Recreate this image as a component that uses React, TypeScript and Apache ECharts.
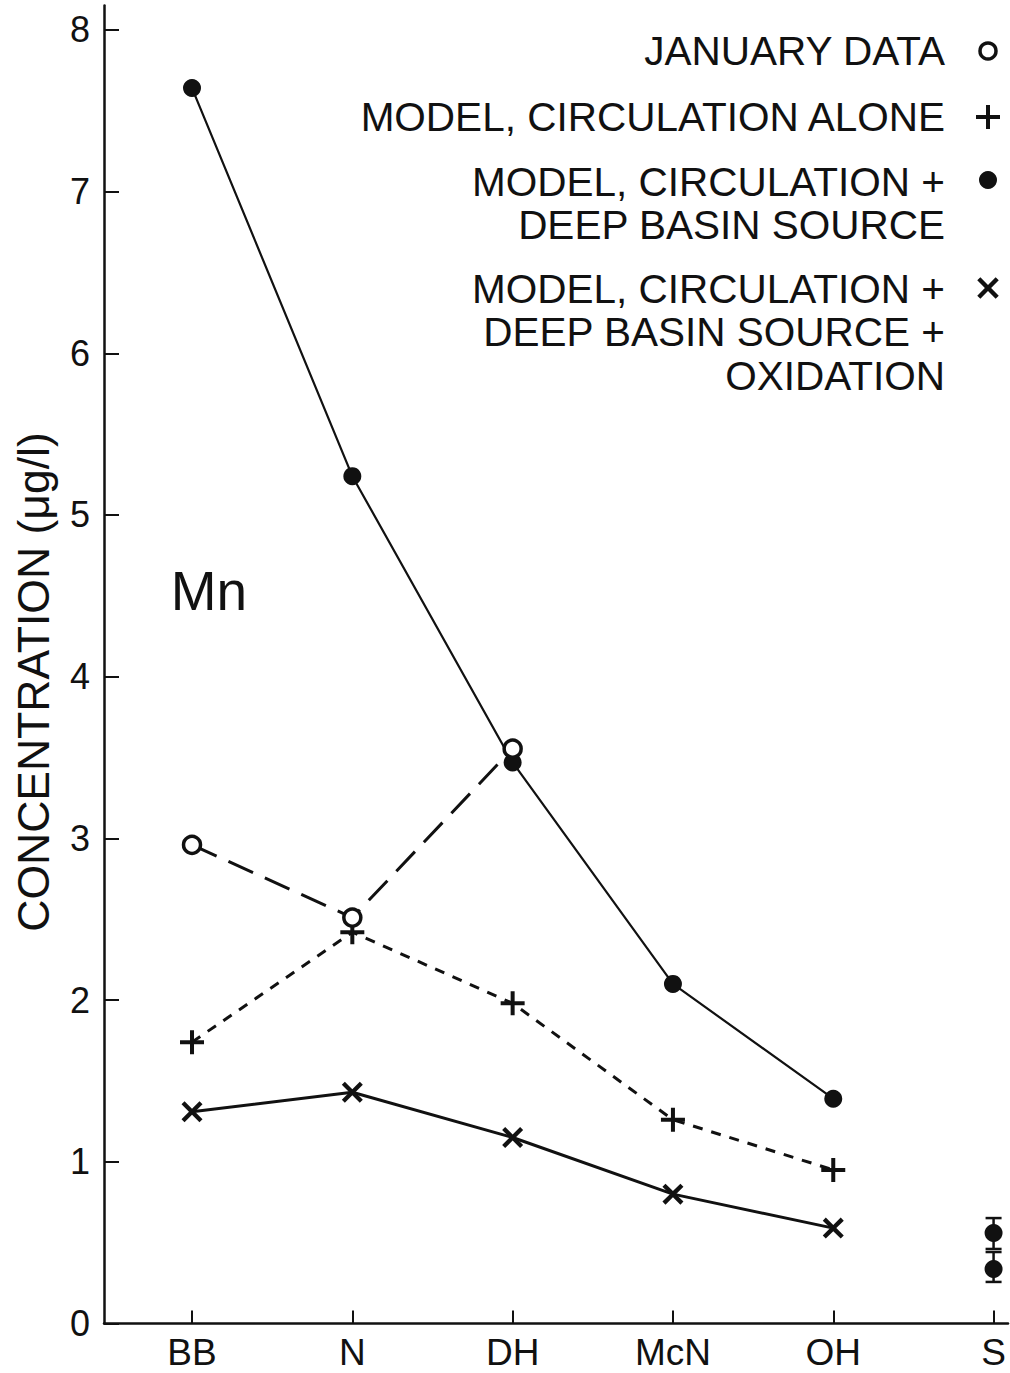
import React, { useEffect, useRef } from "react";
import * as echarts from "echarts";

// Stations along the x axis
const stations = ["BB", "N", "DH", "McN", "OH", "S"];
const yTicks = [0, 1, 2, 3, 4, 5, 6, 7, 8];

// Mn concentration (µg/l) per station
const januaryData = [2.96, 2.51, 3.555];
const circulationAlone = [1.74, 2.42, 1.98, 1.26, 0.95];
const circulationDeepBasin = [7.64, 5.24, 3.47, 2.1, 1.39];
const circulationDeepBasinOxidation = [1.31, 1.43, 1.15, 0.8, 0.59];

// Observed values at S with their ranges
const sValues = [0.56, 0.337];
const sLow = [0.461, 0.257];
const sHigh = [0.652, 0.442];

const FONT = "'Liberation Sans', Arial, Helvetica, sans-serif";
const INK = "#111";

const PLUS_PATH =
  "path://M-2,-12 H2 V-2 H12 V2 H2 V12 H-2 V2 H-12 V-2 H-2 Z";
const CROSS_PTS: number[][] = [
  [7.64, -10.75], [10.75, -7.64], [3.11, 0], [10.75, 7.64], [7.64, 10.75], [0, 3.11],
  [-7.64, 10.75], [-10.75, 7.64], [-3.11, 0], [-10.75, -7.64], [-7.64, -10.75], [0, -3.11],
];
const CROSS_PATH =
  "path://M" + CROSS_PTS.map((p) => p.join(",")).join(" L") + " Z";

const toPoints = (vals: number[]) => vals.map((v, i) => [i, v]);

export default function App() {
  const ref = useRef<HTMLDivElement>(null);

  useEffect(() => {
    document.body.style.margin = "0";
    if (!ref.current) return;
    const chart = echarts.init(ref.current, undefined, { renderer: "svg" });

    const legendRows = [
      { text: "JANUARY DATA", y: 51 },
      { text: "MODEL, CIRCULATION ALONE", y: 117 },
      { text: "MODEL, CIRCULATION +", y: 182 },
      { text: "DEEP BASIN SOURCE", y: 225 },
      { text: "MODEL, CIRCULATION +", y: 289 },
      { text: "DEEP BASIN SOURCE +", y: 332 },
      { text: "OXIDATION", y: 376 },
    ];

    const legendX = 988;
    const plusPts = [
      [-2, -12], [2, -12], [2, -2], [12, -2], [12, 2], [2, 2],
      [2, 12], [-2, 12], [-2, 2], [-12, 2], [-12, -2], [-2, -2],
    ];

    const option: any = {
      animation: false,
      backgroundColor: "#fff",
      grid: { left: 104, right: 2, top: 5.6, bottom: 49.5 },
      xAxis: {
        type: "value",
        min: -0.549,
        max: 5.09,
        axisLine: { show: true, onZero: false, lineStyle: { color: INK, width: 2.5 } },
        axisTick: {
          show: true,
          inside: true,
          length: 13,
          customValues: [0, 1, 2, 3, 4, 5],
          lineStyle: { color: INK, width: 2 },
        },
        axisLabel: {
          customValues: [0, 1, 2, 3, 4, 5],
          formatter: (v: number) => stations[Math.round(v)] ?? "",
          color: INK,
          fontFamily: FONT,
          fontSize: 37,
          margin: 10,
        },
        splitLine: { show: false },
      },
      yAxis: {
        type: "value",
        min: 0,
        max: 8.15,
        axisLine: { show: true, onZero: false, lineStyle: { color: INK, width: 2.5 } },
        axisTick: {
          show: true,
          inside: true,
          length: 15,
          customValues: yTicks,
          lineStyle: { color: INK, width: 2 },
        },
        axisLabel: {
          customValues: yTicks,
          color: INK,
          fontFamily: FONT,
          fontSize: 36,
          margin: 14,
        },
        splitLine: { show: false },
      },
      graphic: [
        {
          type: "text",
          x: 33,
          y: 682,
          rotation: Math.PI / 2,
          style: {
            text: "CONCENTRATION (μg/l)",
            fontFamily: FONT,
            fontSize: 44.5,
            fill: INK,
            align: "center",
            verticalAlign: "middle",
          },
        },
        {
          type: "text",
          x: 209,
          y: 591,
          style: {
            text: "Mn",
            fontFamily: FONT,
            fontSize: 55,
            fill: INK,
            align: "center",
            verticalAlign: "middle",
          },
        },
        ...legendRows.map((r) => ({
          type: "text",
          x: 945,
          y: r.y,
          style: {
            text: r.text,
            fontFamily: FONT,
            fontSize: 40.5,
            fill: INK,
            align: "right",
            verticalAlign: "middle",
          },
        })),
        {
          type: "circle",
          shape: { cx: legendX, cy: 51, r: 8 },
          style: { fill: "#fff", stroke: INK, lineWidth: 3.5 },
        },
        {
          type: "polygon",
          x: legendX,
          y: 117,
          shape: { points: plusPts },
          style: { fill: INK },
        },
        {
          type: "circle",
          shape: { cx: legendX, cy: 180, r: 9 },
          style: { fill: INK },
        },
        {
          type: "polygon",
          x: legendX,
          y: 288,
          shape: { points: CROSS_PTS },
          style: { fill: INK },
        },
      ],
      series: [
        {
          name: "Model, circulation + deep basin source",
          type: "line",
          data: toPoints(circulationDeepBasin),
          symbol: "circle",
          symbolSize: 18,
          lineStyle: { color: INK, width: 2.2 },
          itemStyle: { color: INK },
          z: 2,
        },
        {
          name: "Model, circulation + deep basin source + oxidation",
          type: "line",
          data: toPoints(circulationDeepBasinOxidation),
          symbol: CROSS_PATH,
          symbolSize: 21,
          lineStyle: { color: INK, width: 3 },
          itemStyle: { color: INK },
          z: 2,
        },
        {
          name: "Model, circulation alone",
          type: "line",
          data: toPoints(circulationAlone),
          symbol: PLUS_PATH,
          symbolSize: 24,
          lineStyle: { color: INK, width: 3, type: [10, 9] },
          itemStyle: { color: INK },
          z: 3,
        },
        {
          name: "January data",
          type: "line",
          data: toPoints(januaryData),
          symbol: "circle",
          symbolSize: 17,
          lineStyle: { color: INK, width: 3, type: [27, 13] },
          itemStyle: { color: "#fff", borderColor: INK, borderWidth: 3.5 },
          z: 4,
        },
        {
          name: "S observations",
          type: "custom",
          data: sValues.map((v, i) => [5, sLow[i], sHigh[i]]),
          renderItem: (_params: any, api: any) => {
            const lo = api.coord([api.value(0), api.value(1)]);
            const hi = api.coord([api.value(0), api.value(2)]);
            const half = 8;
            const st = { stroke: INK, lineWidth: 2.5 };
            return {
              type: "group",
              children: [
                { type: "line", shape: { x1: lo[0], y1: lo[1], x2: hi[0], y2: hi[1] }, style: st },
                { type: "line", shape: { x1: lo[0] - half, y1: lo[1], x2: lo[0] + half, y2: lo[1] }, style: st },
                { type: "line", shape: { x1: hi[0] - half, y1: hi[1], x2: hi[0] + half, y2: hi[1] }, style: st },
              ],
            };
          },
          z: 2,
        },
        {
          name: "S",
          type: "scatter",
          data: sValues.map((v) => [5, v]),
          symbol: "circle",
          symbolSize: 18,
          itemStyle: { color: INK, opacity: 1 },
          z: 5,
        },
      ],
    };

    chart.setOption(option);
    return () => chart.dispose();
  }, []);

  return <div ref={ref} style={{ width: 1010, height: 1373 }} />;
}
